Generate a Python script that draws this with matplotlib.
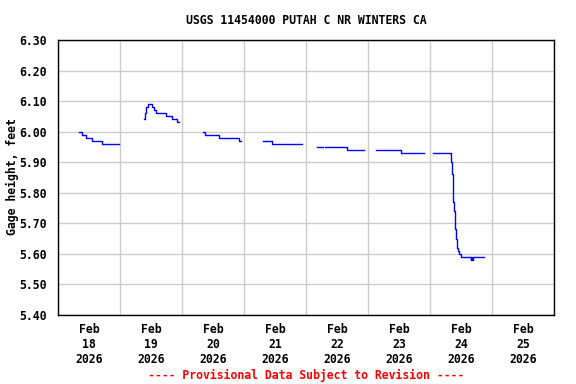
import numpy as np
import pandas as pd
import matplotlib
matplotlib.use("Agg")
import matplotlib.pyplot as plt

# ---- data (gage height, feet); NaN breaks the line into segments ----
times = [
    # Feb 18
    "2026-02-18 08:00", "2026-02-18 09:15", "2026-02-18 11:00", "2026-02-18 13:15",
    "2026-02-18 17:00", "2026-02-18 23:15", "2026-02-18 23:30",
    # Feb 19
    "2026-02-19 09:15", "2026-02-19 09:45", "2026-02-19 10:15", "2026-02-19 10:45",
    "2026-02-19 12:15", "2026-02-19 13:00", "2026-02-19 13:45", "2026-02-19 17:45",
    "2026-02-19 20:15", "2026-02-19 22:15", "2026-02-19 22:30", "2026-02-19 22:45",
    # Feb 20
    "2026-02-20 08:00", "2026-02-20 09:00", "2026-02-20 14:30", "2026-02-20 22:15",
    "2026-02-20 22:45", "2026-02-20 23:00",
    # Feb 21
    "2026-02-21 07:30", "2026-02-21 10:45", "2026-02-21 22:15", "2026-02-21 22:30",
    # Feb 22 (two pieces)
    "2026-02-22 04:15", "2026-02-22 06:30", "2026-02-22 06:45",
    "2026-02-22 07:30", "2026-02-22 16:00", "2026-02-22 22:15", "2026-02-22 22:30",
    # Feb 23
    "2026-02-23 03:00", "2026-02-23 12:45", "2026-02-23 21:15", "2026-02-23 21:30",
    # Feb 24
    "2026-02-24 01:15", "2026-02-24 08:15", "2026-02-24 08:30", "2026-02-24 09:00",
    "2026-02-24 09:15", "2026-02-24 09:45", "2026-02-24 10:00", "2026-02-24 10:30",
    "2026-02-24 11:00", "2026-02-24 11:15", "2026-02-24 12:00", "2026-02-24 15:45",
    "2026-02-24 16:00", "2026-02-24 16:15", "2026-02-24 16:30", "2026-02-24 21:00",
]
values = [
    6.00, 5.99, 5.98, 5.97, 5.96, 5.96, np.nan,
    6.04, 6.06, 6.08, 6.09, 6.08, 6.07, 6.06, 6.05, 6.04, 6.03, 6.03, np.nan,
    6.00, 5.99, 5.98, 5.97, 5.97, np.nan,
    5.97, 5.96, 5.96, np.nan,
    5.95, 5.95, np.nan,
    5.95, 5.94, 5.94, np.nan,
    5.94, 5.93, 5.93, np.nan,
    5.93, 5.90, 5.86, 5.77, 5.74, 5.68, 5.65, 5.62, 5.61, 5.60, 5.59, 5.58,
    5.59, 5.58, 5.59, 5.59,
]

day_labels = ["Feb\n18\n2026", "Feb\n19\n2026", "Feb\n20\n2026", "Feb\n21\n2026",
              "Feb\n22\n2026", "Feb\n23\n2026", "Feb\n24\n2026", "Feb\n25\n2026"]
y_ticks = [5.40, 5.50, 5.60, 5.70, 5.80, 5.90, 6.00, 6.10, 6.20, 6.30]

title = "USGS 11454000 PUTAH C NR WINTERS CA"
ylabel = "Gage height, feet"
footer = "---- Provisional Data Subject to Revision ----"

# ---- plot ----
t = pd.to_datetime(times)
mono = ["DejaVu Sans Mono"]
fs = 8.3

fig = plt.figure(figsize=(5.76, 3.84), dpi=100)
ax = fig.add_axes([58/576, 1-315/384, (554-58)/576, (315-40)/384])

ax.plot(t, values, color="#0000FF", lw=1.0, drawstyle="steps-post")

start = pd.Timestamp("2026-02-18")
end = pd.Timestamp("2026-02-26")
ax.set_xlim(start, end)
ax.set_ylim(5.40, 6.30)

midnights = pd.date_range(start, end, freq="D")
noons = pd.date_range(start + pd.Timedelta(hours=12), periods=8, freq="D")
ax.set_xticks(midnights)
ax.set_xticklabels([])
ax.set_xticks(noons, minor=True)
ax.set_xticklabels(day_labels, minor=True, fontfamily=mono, fontweight="bold",
                   fontsize=fs, linespacing=1.2)
ax.tick_params(axis="x", which="both", length=0, pad=6)

ax.set_yticks(y_ticks)
ax.set_yticklabels([f"{v:.2f}" for v in y_ticks], fontfamily=mono,
                   fontweight="bold", fontsize=fs)
ax.tick_params(axis="y", length=0, pad=8)

ax.grid(True, which="major", color="#CCCCCC", lw=1.0)
ax.set_axisbelow(True)
for s in ax.spines.values():
    s.set_color("black")
    s.set_linewidth(1.0)

fig.text(306/576, 1-20/384, title, ha="center", va="center",
         fontfamily=mono, fontweight="bold", fontsize=fs)
fig.text(12/576, 1-177/384, ylabel, ha="center", va="center", rotation=90,
         fontfamily=mono, fontweight="bold", fontsize=fs)
fig.text(306/576, 1-375/384, footer, ha="center", va="center",
         fontfamily=mono, fontweight="bold", fontsize=fs, color="#FF0000")

fig.savefig("out.png", dpi=100)
